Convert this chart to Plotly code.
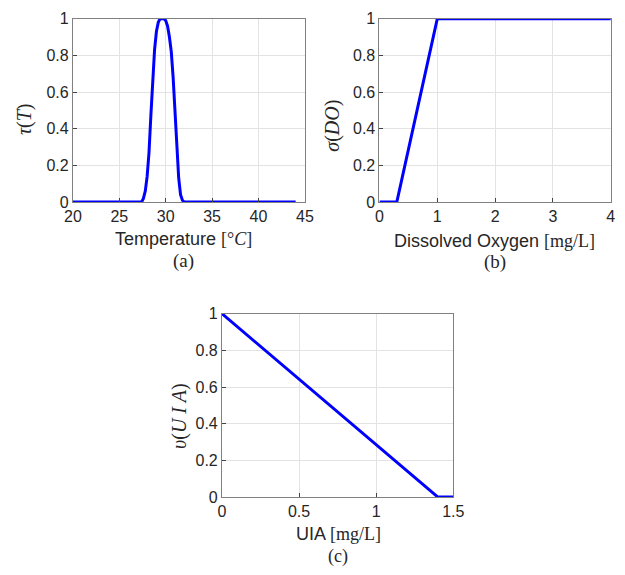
import plotly.graph_objects as go

# Panel (a): temperature membership
temp_x = [20, 27.4, 27.6, 27.8, 28.0, 28.2, 28.4, 28.6, 28.8, 29.0, 29.2, 29.4, 29.6, 29.8, 30.0, 30.2, 30.4, 30.6, 30.8, 31.0, 31.2, 31.4, 31.6, 31.8, 32.0, 44]
temp_y = [0, 0, 0.02, 0.06, 0.14, 0.27, 0.47, 0.67, 0.83, 0.93, 0.98, 1.0, 1.0, 1.0, 0.99, 0.96, 0.9, 0.82, 0.68, 0.5, 0.3, 0.13, 0.04, 0.01, 0, 0]
# Panel (b): dissolved oxygen membership
do_x = [0, 0.3, 1.0, 4.0]
do_y = [0, 0, 1, 1]
# Panel (c): UIA membership
uia_x = [0, 1.4, 1.5]
uia_y = [1, 0, 0]

y_ticks = [0, 0.2, 0.4, 0.6, 0.8, 1]
y_labels = ["0", "0.2", "0.4", "0.6", "0.8", "1"]
a_ticks = [20, 25, 30, 35, 40, 45]
b_ticks = [0, 1, 2, 3, 4]
c_ticks = [0, 0.5, 1, 1.5]
c_labels = ["0", "0.5", "1", "1.5"]

W, H = 625, 575
def px(x): return x / W
def py(y): return 1 - y / H

fig = go.Figure()
blue = "#0000FF"
fig.add_trace(go.Scatter(x=temp_x, y=temp_y, mode="lines", line=dict(color=blue, width=3), xaxis="x", yaxis="y"))
fig.add_trace(go.Scatter(x=do_x, y=do_y, mode="lines", line=dict(color=blue, width=3), xaxis="x2", yaxis="y2"))
fig.add_trace(go.Scatter(x=uia_x, y=uia_y, mode="lines", line=dict(color=blue, width=3), xaxis="x3", yaxis="y3"))

tickfont = dict(family="Arial", size=16, color="#262626")
common = dict(showgrid=True, gridcolor="#e3e3e3", gridwidth=1, showline=True, linecolor="#808080",
              linewidth=1, mirror=True, ticks="inside", ticklen=4, tickcolor="#444", zeroline=False,
              tickfont=tickfont, fixedrange=True)

fig.update_layout(
    width=W, height=H, margin=dict(l=0, r=0, t=0, b=0), showlegend=False,
    paper_bgcolor="white", plot_bgcolor="white",
    xaxis=dict(domain=[px(66), px(305.7)], range=[20, 45], tickvals=a_ticks, anchor="y", **common),
    yaxis=dict(domain=[py(200), py(11)], range=[0, 1], tickvals=y_ticks, ticktext=y_labels, anchor="x", **common),
    xaxis2=dict(domain=[px(382.7), px(621.7)], range=[0, 4], tickvals=b_ticks, anchor="y2", **common),
    yaxis2=dict(domain=[py(200), py(11)], range=[0, 1], tickvals=y_ticks, ticktext=y_labels, anchor="x2", **common),
    xaxis3=dict(domain=[px(220), px(459)], range=[0, 1.5], tickvals=c_ticks, ticktext=c_labels, anchor="y3", **common),
    yaxis3=dict(domain=[py(504), py(315)], range=[0, 1], tickvals=y_ticks, ticktext=y_labels, anchor="x3", **common),
)

serif = "Liberation Serif"
sans = "Arial"
ann = []
def add(text, x, y, font, size, angle=0):
    ann.append(dict(text=text, x=px(x), y=py(y), xref="paper", yref="paper", showarrow=False,
                    xanchor="center", yanchor="middle", textangle=angle,
                    font=dict(family=font, size=size, color="#262626")))

add("Temperature <span style='font-family:Liberation Serif'>[°<i>C</i>]</span>", 180, 238, sans, 18)
add("(a)", 180, 261, serif, 19)
add("Dissolved Oxygen <span style='font-family:Liberation Serif'>[mg/L]</span>", 502, 240, sans, 18)
add("(b)", 502, 262, serif, 19)
add("UIA <span style='font-family:Liberation Serif'>[mg/L]</span>", 340, 542, sans, 18)
add("(c)", 340, 565, serif, 18)
add("<i>τ</i>(<i>T</i>)", 16, 114, serif, 20, -90)
add("<i>σ</i>(<i>DO</i>)", 334, 121, serif, 20, -90)
add("<i>υ</i>(<i>U I A</i>)", 176, 420, serif, 20, -90)
fig.update_layout(annotations=ann)

fig.write_html("out.html")
